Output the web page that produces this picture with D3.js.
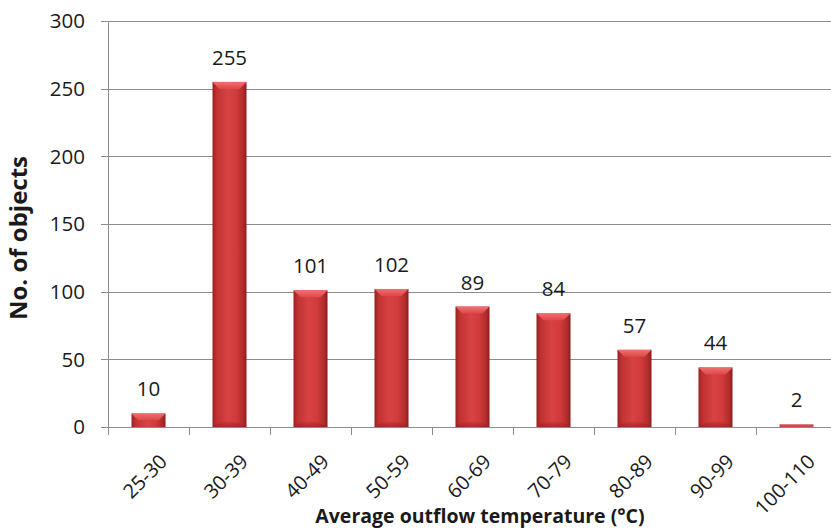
<!DOCTYPE html>
<html>
<head>
<meta charset="utf-8">
<script src="https://cdn.jsdelivr.net/npm/d3@7"></script>
<style>
  html, body { margin: 0; padding: 0; background: #fff; }
  svg { display: block; }
  text { font-family: "Open Sans", "DejaVu Sans", sans-serif; fill: #1a1a1a; }
</style>
</head>
<body>
<svg id="chart" width="831" height="530"></svg>
<script>
// Temperature bands and object counts
const categories = ["25-30", "30-39", "40-49", "50-59", "60-69", "70-79", "80-89", "90-99", "100-110"];
const counts = [10, 255, 101, 102, 89, 84, 57, 44, 2];
const yTicks = [0, 50, 100, 150, 200, 250, 300];

const width = 831, height = 530;
const plot = { left: 108, right: 837, top: 21, bottom: 427 };

const svg = d3.select("#chart");

const x = d3.scaleBand().domain(categories).range([plot.left, plot.right]).paddingInner(0.58).paddingOuter(0.29);
const xTicks = d3.scaleBand().domain(categories).range([plot.left, plot.right]);
const y = d3.scaleLinear().domain([0, 300]).range([plot.bottom, plot.top]);

// Gradients for the bevelled bar look
const defs = svg.append("defs");
const body = defs.append("linearGradient").attr("id", "barBody").attr("x1", "0").attr("x2", "1").attr("y1", "0").attr("y2", "0");
[[0, "#9a2020"], [0.12, "#c03232"], [0.45, "#d84242"], [0.7, "#d03a3a"], [0.9, "#b22c2c"], [1, "#8a1d1d"]]
  .forEach(([o, c]) => body.append("stop").attr("offset", o).attr("stop-color", c));
const topG = defs.append("linearGradient").attr("id", "barTop").attr("x1", "0").attr("x2", "0").attr("y1", "0").attr("y2", "1");
[[0, "#f07070"], [1, "#dc4848"]].forEach(([o, c]) => topG.append("stop").attr("offset", o).attr("stop-color", c));
const bottomG = defs.append("linearGradient").attr("id", "barBottom").attr("x1", "0").attr("x2", "0").attr("y1", "0").attr("y2", "1");
[[0, "#c03434"], [1, "#8a1e1e"]].forEach(([o, c]) => bottomG.append("stop").attr("offset", o).attr("stop-color", c));

// Horizontal gridlines
svg.append("g")
  .selectAll("line")
  .data(yTicks)
  .join("line")
  .attr("x1", plot.left - 7)
  .attr("x2", width)
  .attr("y1", d => Math.round(y(d)) + 0.5)
  .attr("y2", d => Math.round(y(d)) + 0.5)
  .attr("stroke", "#8c8c8c")
  .attr("stroke-width", 1);

// Y axis line
svg.append("line")
  .attr("x1", plot.left + 0.5).attr("x2", plot.left + 0.5)
  .attr("y1", y(300)).attr("y2", y(0))
  .attr("stroke", "#8c8c8c");

// Y tick labels
svg.append("g")
  .selectAll("text")
  .data(yTicks)
  .join("text")
  .attr("x", plot.left - 23)
  .attr("y", d => y(d))
  .attr("dy", "0.36em")
  .attr("text-anchor", "end")
  .style("font-size", "20.5px")
  .text(d => d);

// X tick marks at band boundaries
svg.append("g")
  .selectAll("line")
  .data(categories)
  .join("line")
  .attr("x1", d => Math.round(xTicks(d)) + 0.5)
  .attr("x2", d => Math.round(xTicks(d)) + 0.5)
  .attr("y1", y(0))
  .attr("y2", y(0) + 8)
  .attr("stroke", "#8c8c8c");

// Bars
const bars = svg.append("g")
  .selectAll("g")
  .data(categories.map((c, i) => ({ c, v: counts[i] })))
  .join("g");

bars.append("rect")
  .attr("x", d => x(d.c))
  .attr("y", d => y(d.v))
  .attr("width", x.bandwidth())
  .attr("height", d => y(0) - y(d.v))
  .attr("fill", "url(#barBody)");

// Top bevel
bars.filter(d => y(0) - y(d.v) > 6)
  .append("path")
  .attr("d", d => {
    const x0 = x(d.c), x1 = x0 + x.bandwidth(), t = y(d.v);
    const b = Math.min(7, (y(0) - t) / 2);
    return `M${x0},${t}L${x1},${t}L${x1 - b},${t + b}L${x0 + b},${t + b}Z`;
  })
  .attr("fill", "url(#barTop)");

// Bottom bevel
bars.filter(d => y(0) - y(d.v) > 20)
  .append("path")
  .attr("d", d => {
    const x0 = x(d.c), x1 = x0 + x.bandwidth(), bt = y(0);
    const b = 5;
    return `M${x0},${bt}L${x1},${bt}L${x1 - b},${bt - b}L${x0 + b},${bt - b}Z`;
  })
  .attr("fill", "url(#barBottom)")
  .attr("opacity", 0.6);

// Very thin bars drawn as a flat red strip
bars.filter(d => y(0) - y(d.v) <= 6)
  .select("rect")
  .attr("fill", "#d04848");

// Value labels
bars.append("text")
  .attr("x", d => x(d.c) + x.bandwidth() / 2)
  .attr("y", d => y(d.v) - 17)
  .attr("text-anchor", "middle")
  .style("font-size", "20.5px")
  .text(d => d.v);

// Rotated category labels
svg.append("g")
  .selectAll("text")
  .data(categories)
  .join("text")
  .attr("transform", d => `translate(${xTicks(d) + xTicks.bandwidth() / 2 + 10},${y(0) + 26}) rotate(-45)`)
  .attr("text-anchor", "end")
  .attr("dy", "0.7em")
  .style("font-size", "20px")
  .text(d => d);

// Axis titles
svg.append("text")
  .attr("transform", `translate(27,238) rotate(-90)`)
  .attr("text-anchor", "middle")
  .style("font-size", "24px")
  .style("font-weight", "bold")
  .text("No. of objects");

svg.append("text")
  .attr("x", 480)
  .attr("y", 523)
  .attr("text-anchor", "middle")
  .style("font-size", "19.5px")
  .style("font-weight", "bold")
  .text("Average outflow temperature (°C)");
</script>
</body>
</html>
